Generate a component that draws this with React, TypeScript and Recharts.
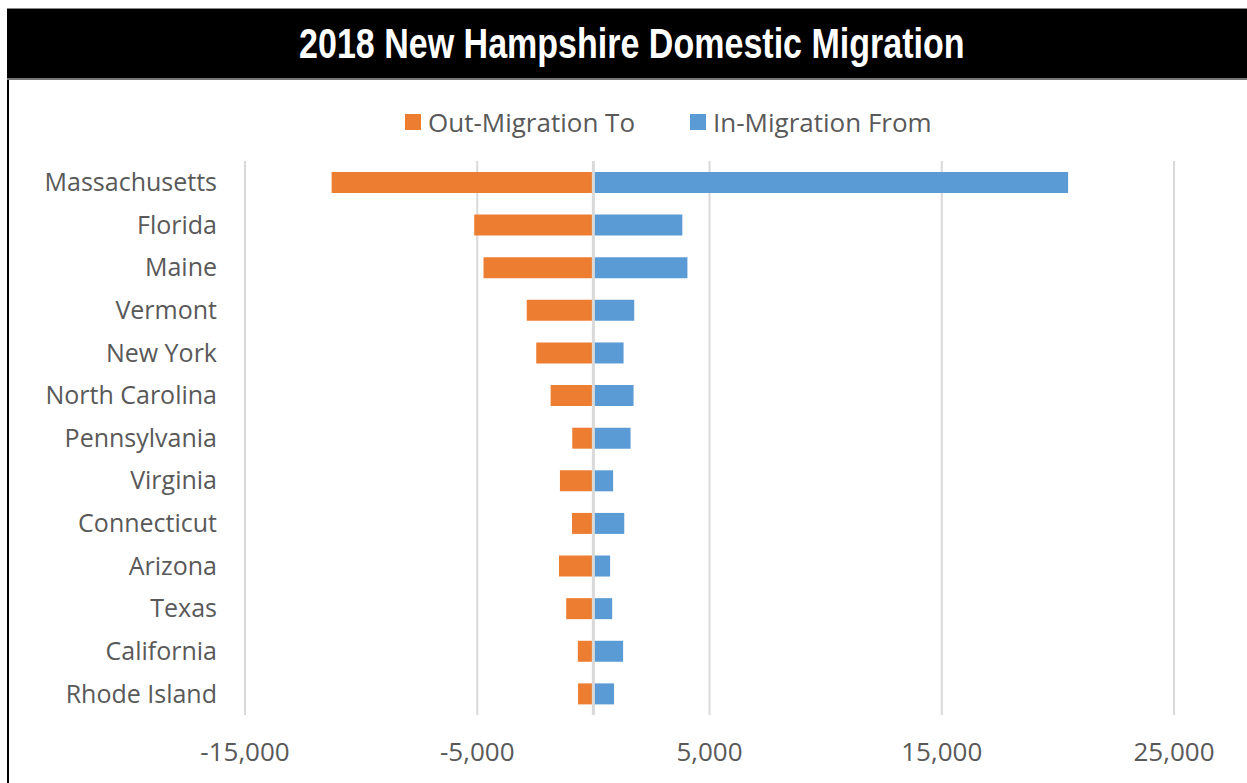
import React from 'react';
import {
  BarChart,
  Bar,
  XAxis,
  YAxis,
  CartesianGrid,
  ReferenceLine,
} from 'recharts';

const states = [
  'Massachusetts',
  'Florida',
  'Maine',
  'Vermont',
  'New York',
  'North Carolina',
  'Pennsylvania',
  'Virginia',
  'Connecticut',
  'Arizona',
  'Texas',
  'California',
  'Rhode Island',
];
const outMigration = [-11270, -5130, -4730, -2870, -2460, -1840, -910, -1440, -920, -1480, -1170, -670, -660];
const inMigration = [20440, 3830, 4050, 1760, 1300, 1730, 1600, 850, 1330, 720, 810, 1280, 890];
const xTicks = [-15000, -5000, 5000, 15000, 25000];

const data = states.map((state, i) => ({
  state,
  outMig: outMigration[i],
  inMig: inMigration[i],
}));

const ORANGE = '#ED7D31';
const BLUE = '#5B9BD5';
const FONT = '"Open Sans", sans-serif';

const legendItems = [
  { label: 'Out-Migration To', color: ORANGE, left: 405 },
  { label: 'In-Migration From', color: BLUE, left: 690 },
];

export default function App() {
  return (
    <div style={{ position: 'relative', width: 1247, height: 783, background: '#fff', overflow: 'hidden' }}>
      <style>{'body{margin:0}'}</style>
      {/* title band */}
      <div
        style={{
          position: 'absolute',
          left: 7,
          top: 8,
          width: 1240,
          height: 72,
          background: '#000',
          borderTop: '1px solid #888',
          borderBottom: '2px solid #777',
          boxSizing: 'border-box',
          color: '#fff',
          fontFamily: '"Liberation Sans", Arial, sans-serif',
          fontWeight: 700,
          fontSize: 42,
          lineHeight: '70px',
          textAlign: 'center',
          paddingLeft: 10,
        }}
      >
        <span style={{ display: 'inline-block', transform: 'scaleX(0.81)', whiteSpace: 'nowrap' }}>
          2018 New Hampshire Domestic Migration
        </span>
      </div>
      {/* left frame edge */}
      <div style={{ position: 'absolute', left: 7, top: 80, width: 2, height: 703, background: '#000' }} />

      {/* legend */}
      {legendItems.map((item) => (
        <div
          key={item.label}
          style={{
            position: 'absolute',
            left: item.left,
            top: 104,
            height: 36,
            display: 'flex',
            alignItems: 'center',
            fontFamily: FONT,
            fontSize: 26,
            color: '#595959',
            whiteSpace: 'nowrap',
          }}
        >
          <span style={{ width: 16, height: 16, background: item.color, marginRight: 7, display: 'inline-block' }} />
          <span>{item.label}</span>
        </div>
      ))}

      <div style={{ position: 'absolute', left: 0, top: 0 }}>
        <BarChart
          width={1247}
          height={783}
          data={data}
          layout="vertical"
          barGap={-21}
          barSize={21}
          margin={{ top: 161, right: 73, bottom: 28, left: 0 }}
        >
          <CartesianGrid horizontal={false} stroke="#d9d9d9" strokeWidth={2} />
          <XAxis
            type="number"
            domain={[-15000, 25000]}
            ticks={xTicks}
            axisLine={false}
            tickLine={false}
            tickSize={0}
            tickMargin={28}
            height={40}
            tick={{ fill: '#595959', fontSize: 26, fontFamily: FONT }}
            tickFormatter={(v: number) => v.toLocaleString('en-US')}
          />
          <YAxis
            type="category"
            dataKey="state"
            width={245}
            axisLine={false}
            tickLine={false}
            tickSize={0}
            tickMargin={28}
            interval={0}
            tick={{ fill: '#595959', fontSize: 25, fontFamily: FONT }}
          />
          <Bar dataKey="outMig" name="Out-Migration To" fill={ORANGE} isAnimationActive={false} />
          <Bar dataKey="inMig" name="In-Migration From" fill={BLUE} isAnimationActive={false} />
          <ReferenceLine x={0} stroke="#d9d9d9" strokeWidth={3} />
        </BarChart>
      </div>
    </div>
  );
}
